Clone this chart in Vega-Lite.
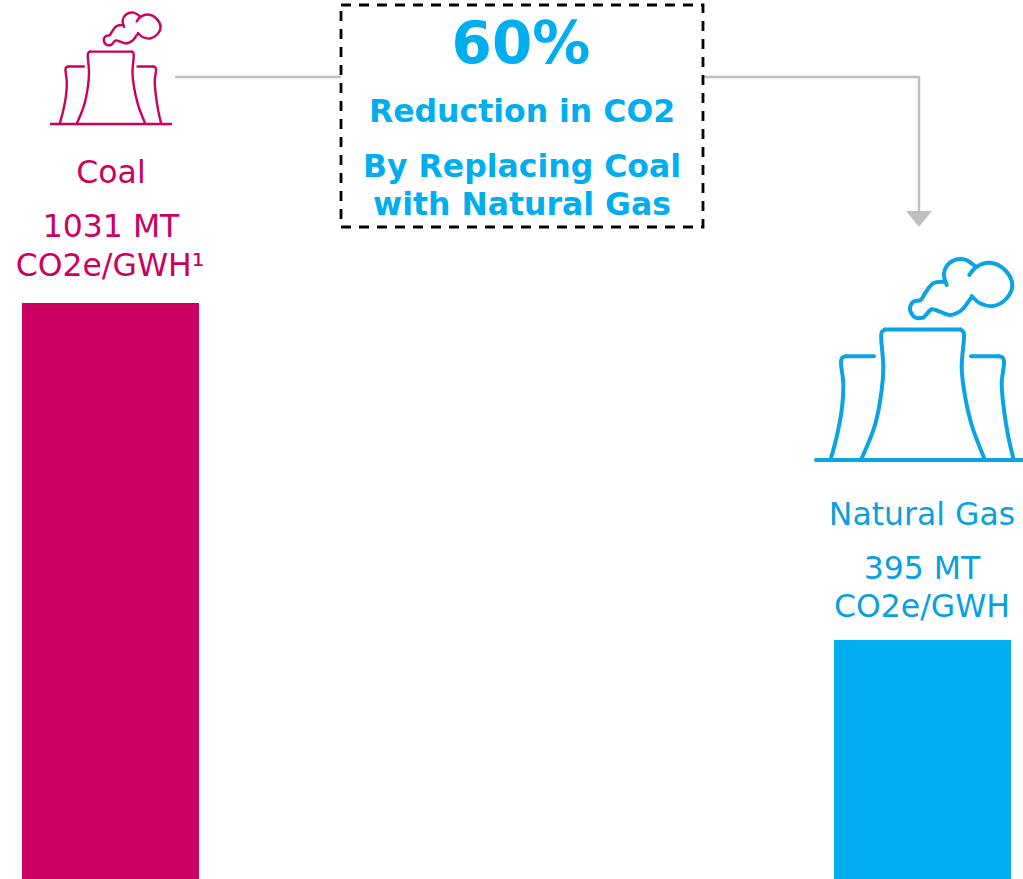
{"$schema":"https://vega.github.io/schema/vega-lite/v6.json","width":1023,"height":879,"padding":0,"autosize":"none","background":"#ffffff","config":{"view":{"stroke":null}},
"datasets":{
"bars":[{"fuel":"Coal","x":22,"x2":199,"emissions":1031},{"fuel":"Natural Gas","x":834,"x2":1011,"emissions":427.8}],
"connector":[{"p":"left","o":1,"x":175,"y":77},{"p":"left","o":2,"x":341,"y":77},{"p":"right","o":1,"x":703,"y":77},{"p":"right","o":2,"x":919,"y":77},{"p":"right","o":3,"x":919,"y":214}],
"arrow":[{"x":919,"y":219}],
"box":[{"x":341,"x2":703,"y":5,"y2":227}],
"labels":[{"fuel":"Coal","x":111,"y":183,"text":"Coal"},{"fuel":"Coal","x":111,"y":237,"text":"1031 MT"},{"fuel":"Coal","x":110,"y":276,"text":"CO2e/GWH¹"},{"fuel":"Natural Gas","x":922,"y":525,"text":"Natural Gas"},{"fuel":"Natural Gas","x":922,"y":579,"text":"395 MT"},{"fuel":"Natural Gas","x":922,"y":617,"text":"CO2e/GWH"}],
"callout":[{"x":522,"y":122,"text":"Reduction in CO2"},{"x":522,"y":177,"text":"By Replacing Coal"},{"x":522,"y":215,"text":"with Natural Gas"}],
"headline":[{"x":521,"y":63,"text":"60%"}],
"coalIcon":[
{"p":"ground","o":1,"x":51,"y":124},{"p":"ground","o":2,"x":171,"y":124},
{"p":"cLeft","o":1,"x":77,"y":123.1},{"p":"cLeft","o":2,"x":84.3,"y":104.6},{"p":"cLeft","o":3,"x":88.1,"y":85.2},{"p":"cLeft","o":4,"x":89,"y":72.2},{"p":"cLeft","o":5,"x":87.8,"y":55.7},{"p":"cLeft","o":6,"x":88.1,"y":53},{"p":"cLeft","o":7,"x":89.9,"y":51.6},
{"p":"cTop","o":1,"x":89.9,"y":51.6},{"p":"cTop","o":2,"x":131.8,"y":51.6},
{"p":"cRight","o":1,"x":145,"y":123.1},{"p":"cRight","o":2,"x":138,"y":104.6},{"p":"cRight","o":3,"x":133.7,"y":85.2},{"p":"cRight","o":4,"x":132.5,"y":72.2},{"p":"cRight","o":5,"x":133.7,"y":55.7},{"p":"cRight","o":6,"x":133.5,"y":53},{"p":"cRight","o":7,"x":131.8,"y":51.6},
{"p":"lTop","o":1,"x":83.8,"y":66.5},{"p":"lTop","o":2,"x":68.2,"y":66.5},
{"p":"lSide","o":1,"x":68.2,"y":66.5},{"p":"lSide","o":2,"x":66.3,"y":67.2},{"p":"lSide","o":3,"x":65.5,"y":69.1},{"p":"lSide","o":4,"x":66.8,"y":81.5},{"p":"lSide","o":5,"x":65.9,"y":96.3},{"p":"lSide","o":6,"x":63.1,"y":111},{"p":"lSide","o":7,"x":59.9,"y":123.1},
{"p":"rTop","o":1,"x":137.6,"y":66.5},{"p":"rTop","o":2,"x":153.2,"y":66.5},
{"p":"rSide","o":1,"x":153.2,"y":66.5},{"p":"rSide","o":2,"x":155.1,"y":67.2},{"p":"rSide","o":3,"x":156,"y":69.1},{"p":"rSide","o":4,"x":154.7,"y":81.5},{"p":"rSide","o":5,"x":156,"y":96.3},{"p":"rSide","o":6,"x":158.3,"y":111},{"p":"rSide","o":7,"x":161.1,"y":123.1},
{"p":"smokeA","o":1,"x":138,"y":33},{"p":"smokeA","o":2,"x":142.6,"y":37},{"p":"smokeA","o":3,"x":150,"y":38.5},{"p":"smokeA","o":4,"x":157.4,"y":34.3},{"p":"smokeA","o":5,"x":160.6,"y":26.9},{"p":"smokeA","o":6,"x":156.5,"y":18.6},{"p":"smokeA","o":7,"x":148.2,"y":14.5},{"p":"smokeA","o":8,"x":140.8,"y":16.7},{"p":"smokeA","o":9,"x":136.7,"y":21.3},
{"p":"smokeB","o":1,"x":139.8,"y":16.3},{"p":"smokeB","o":2,"x":133.4,"y":12.6},{"p":"smokeB","o":3,"x":126,"y":14.5},{"p":"smokeB","o":4,"x":122.6,"y":20.4},{"p":"smokeB","o":5,"x":124.1,"y":26.9},
{"p":"smokeC","o":1,"x":122.6,"y":25},{"p":"smokeC","o":2,"x":116.7,"y":26},{"p":"smokeC","o":3,"x":112.1,"y":31.5},{"p":"smokeC","o":4,"x":109.7,"y":35.2},{"p":"smokeC","o":5,"x":105.6,"y":36.1},{"p":"smokeC","o":6,"x":103.8,"y":40.4},{"p":"smokeC","o":7,"x":106.5,"y":44.8},{"p":"smokeC","o":8,"x":111.2,"y":44.8},{"p":"smokeC","o":9,"x":115.8,"y":40.4},{"p":"smokeC","o":10,"x":120.4,"y":41.7},{"p":"smokeC","o":11,"x":126,"y":43.5},{"p":"smokeC","o":12,"x":132.4,"y":40.8},{"p":"smokeC","o":13,"x":136.1,"y":36.1},{"p":"smokeC","o":14,"x":138,"y":33.6}],
"gasIcon":[
{"p":"ground","o":1,"x":816,"y":460},{"p":"ground","o":2,"x":1023,"y":460},
{"p":"cLeft","o":1,"x":861.7,"y":458.3},{"p":"cLeft","o":2,"x":875,"y":425},{"p":"cLeft","o":3,"x":881.7,"y":390},{"p":"cLeft","o":4,"x":883.3,"y":366.7},{"p":"cLeft","o":5,"x":881.2,"y":337},{"p":"cLeft","o":6,"x":881.8,"y":332},{"p":"cLeft","o":7,"x":885,"y":329.5},
{"p":"cTop","o":1,"x":885,"y":329.5},{"p":"cTop","o":2,"x":960.5,"y":329.5},
{"p":"cRight","o":1,"x":984.3,"y":458.3},{"p":"cRight","o":2,"x":971.7,"y":425},{"p":"cRight","o":3,"x":964,"y":390},{"p":"cRight","o":4,"x":961.7,"y":366.7},{"p":"cRight","o":5,"x":964,"y":337},{"p":"cRight","o":6,"x":963.5,"y":332},{"p":"cRight","o":7,"x":960.5,"y":329.5},
{"p":"lTop","o":1,"x":874,"y":356.3},{"p":"lTop","o":2,"x":846,"y":356.3},
{"p":"lSide","o":1,"x":846,"y":356.3},{"p":"lSide","o":2,"x":842.5,"y":357.5},{"p":"lSide","o":3,"x":841,"y":361},{"p":"lSide","o":4,"x":843.3,"y":383.3},{"p":"lSide","o":5,"x":841.7,"y":410},{"p":"lSide","o":6,"x":836.7,"y":436.7},{"p":"lSide","o":7,"x":831,"y":458.3},
{"p":"rTop","o":1,"x":971,"y":356.3},{"p":"rTop","o":2,"x":999,"y":356.3},
{"p":"rSide","o":1,"x":999,"y":356.3},{"p":"rSide","o":2,"x":1002.5,"y":357.5},{"p":"rSide","o":3,"x":1004,"y":361},{"p":"rSide","o":4,"x":1001.7,"y":383.3},{"p":"rSide","o":5,"x":1004,"y":410},{"p":"rSide","o":6,"x":1008.3,"y":436.7},{"p":"rSide","o":7,"x":1013.3,"y":458.3},
{"p":"smokeA","o":1,"x":971.7,"y":296},{"p":"smokeA","o":2,"x":980,"y":303.3},{"p":"smokeA","o":3,"x":993.3,"y":306},{"p":"smokeA","o":4,"x":1006.7,"y":298.3},{"p":"smokeA","o":5,"x":1012.3,"y":285},{"p":"smokeA","o":6,"x":1005,"y":270},{"p":"smokeA","o":7,"x":990,"y":262.7},{"p":"smokeA","o":8,"x":976.7,"y":266.7},{"p":"smokeA","o":9,"x":969.3,"y":275},
{"p":"smokeB","o":1,"x":975,"y":266},{"p":"smokeB","o":2,"x":963.3,"y":259.3},{"p":"smokeB","o":3,"x":950,"y":262.7},{"p":"smokeB","o":4,"x":944,"y":273.3},{"p":"smokeB","o":5,"x":946.7,"y":285},
{"p":"smokeC","o":1,"x":944,"y":281.7},{"p":"smokeC","o":2,"x":933.3,"y":283.3},{"p":"smokeC","o":3,"x":925,"y":293.3},{"p":"smokeC","o":4,"x":920.7,"y":300},{"p":"smokeC","o":5,"x":913.3,"y":301.7},{"p":"smokeC","o":6,"x":910,"y":309.3},{"p":"smokeC","o":7,"x":915,"y":317.3},{"p":"smokeC","o":8,"x":923.3,"y":317.3},{"p":"smokeC","o":9,"x":931.7,"y":309.3},{"p":"smokeC","o":10,"x":940,"y":311.7},{"p":"smokeC","o":11,"x":950,"y":315},{"p":"smokeC","o":12,"x":961.7,"y":310},{"p":"smokeC","o":13,"x":968.3,"y":301.7},{"p":"smokeC","o":14,"x":971.7,"y":297.3}]
},
"encoding":{"x":{"field":"x","type":"quantitative","axis":null,"scale":{"domain":[0,1023],"nice":false,"zero":false}},"y":{"field":"y","type":"quantitative","axis":null,"scale":{"domain":[879,0],"nice":false,"zero":false}}},
"resolve":{"scale":{"y":"independent"}},
"layer":[
{"data":{"name":"bars"},"mark":{"type":"rect"},"encoding":{"x2":{"field":"x2"},"y":{"field":"emissions","type":"quantitative","axis":null,"scale":{"domain":[0,1573.3],"nice":false,"zero":true}},"y2":{"datum":0},"color":{"field":"fuel","type":"nominal","legend":null,"scale":{"domain":["Coal","Natural Gas"],"range":["#cc0060","#00aeef"]}}}},
{"data":{"name":"connector"},"mark":{"type":"line","color":"#bfbfbf","strokeWidth":2.5,"interpolate":"linear"},"encoding":{"detail":{"field":"p"},"order":{"field":"o","type":"quantitative"}}},
{"data":{"name":"arrow"},"mark":{"type":"point","filled":true,"color":"#bfbfbf","opacity":1,"strokeWidth":0,"size":676,"shape":"M-1,-0.62L1,-0.62L0,0.62Z"}},
{"data":{"name":"box"},"mark":{"type":"rect","filled":false,"stroke":"#000000","strokeWidth":2.8,"strokeDash":[10,8]},"encoding":{"x2":{"field":"x2"},"y2":{"field":"y2"}}},
{"data":{"name":"coalIcon"},"mark":{"type":"line","color":"#cc0060","strokeWidth":2.4,"strokeCap":"round","interpolate":"catmull-rom"},"encoding":{"detail":{"field":"p"},"order":{"field":"o","type":"quantitative"}}},
{"data":{"name":"gasIcon"},"mark":{"type":"line","color":"#0aa3e3","strokeWidth":4,"strokeCap":"round","interpolate":"catmull-rom"},"encoding":{"detail":{"field":"p"},"order":{"field":"o","type":"quantitative"}}},
{"data":{"name":"labels"},"transform":[{"filter":"datum.fuel === 'Coal'"}],"mark":{"type":"text","font":"DejaVu Sans","fontSize":31.5,"align":"center","baseline":"alphabetic","color":"#cc0060"},"encoding":{"text":{"field":"text"}}},
{"data":{"name":"labels"},"transform":[{"filter":"datum.fuel === 'Natural Gas'"}],"mark":{"type":"text","font":"DejaVu Sans","fontSize":31.5,"align":"center","baseline":"alphabetic","color":"#0a9fe0"},"encoding":{"text":{"field":"text"}}},
{"data":{"name":"callout"},"mark":{"type":"text","font":"DejaVu Sans","fontWeight":"bold","fontSize":31.5,"align":"center","baseline":"alphabetic","color":"#00aeef"},"encoding":{"text":{"field":"text"}}},
{"data":{"name":"headline"},"mark":{"type":"text","font":"DejaVu Sans","fontWeight":"bold","fontSize":58,"align":"center","baseline":"alphabetic","color":"#00aeef"},"encoding":{"text":{"field":"text"}}}
]}
